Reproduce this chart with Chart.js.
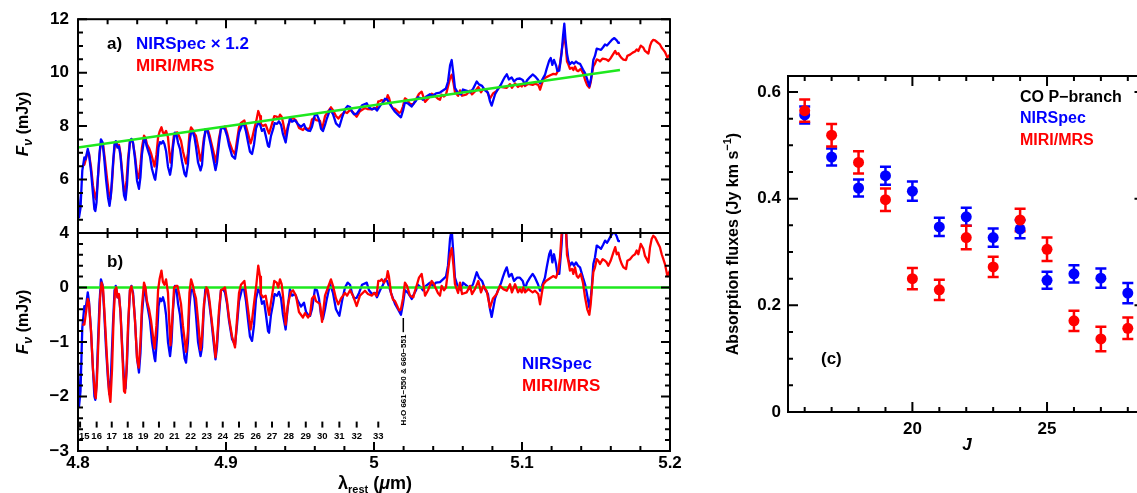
<!DOCTYPE html>
<html>
<head>
<meta charset="utf-8">
<script src="https://cdn.jsdelivr.net/npm/chart.js@4.4.1/dist/chart.umd.min.js"></script>
<style>
  html, body { margin: 0; padding: 0; background: #fff; overflow: hidden; }
  body { width: 1137px; height: 493px; position: relative; }
  canvas { position: absolute; left: 0; top: 0; }
</style>
</head>
<body>
<canvas id="specA" width="1150" height="493"></canvas>
<canvas id="specB" width="1150" height="493"></canvas>
<canvas id="fluxC" width="1150" height="493"></canvas>
<script>
const FAMILY = '"Liberation Sans", Arial, sans-serif';
const BLUE = '#0000ff';
const RED = '#ff0000';
const GREEN = '#1ee81e';

// CO v=1-0 P-branch line positions marked under panel b
const pBranchJ = [15, 16, 17, 18, 19, 20, 21, 22, 23, 24, 25, 26, 27, 28, 29, 30, 31, 32, 33];
const pBranchWave = [4.8014, 4.8126, 4.8228, 4.8336, 4.8441, 4.8547, 4.8651, 4.8761, 4.8870, 4.8978,
  4.9088, 4.9201, 4.9311, 4.9424, 4.9539, 4.9651, 4.9766, 4.9883, 5.0029];
const waterWave = 5.0198;

// straight-line continuum under the CO band (mJy)
const contWave = [4.80, 5.1662];
const contFlux = [7.20, 10.10];
const nirScale = 1.2;

// continuum-subtracted NIRSpec spectrum (mJy)
const nirWave = [
  4.8000, 4.8007, 4.8017, 4.8029, 4.8043, 4.8051, 4.8066, 4.8074, 4.8088, 4.8101, 4.8111, 4.8117, 4.8125, 4.8135,
  4.8145, 4.8155, 4.8166, 4.8176, 4.8189, 4.8203, 4.8213, 4.8223, 4.8236, 4.8247, 4.8255, 4.8267, 4.8277, 4.8287,
  4.8301, 4.8311, 4.8321, 4.8331, 4.8341, 4.8351, 4.8361, 4.8372, 4.8385, 4.8399, 4.8412, 4.8422, 4.8432, 4.8446,
  4.8453, 4.8463, 4.8473, 4.8486, 4.8500, 4.8517, 4.8522, 4.8534, 4.8544, 4.8554, 4.8564, 4.8574, 4.8584, 4.8595,
  4.8608, 4.8622, 4.8632, 4.8642, 4.8655, 4.8666, 4.8676, 4.8689, 4.8703, 4.8720, 4.8730, 4.8743, 4.8753, 4.8764,
  4.8777, 4.8787, 4.8797, 4.8811, 4.8828, 4.8838, 4.8848, 4.8861, 4.8875, 4.8885, 4.8899, 4.8916, 4.8929, 4.8939,
  4.8953, 4.8966, 4.8980, 4.8993, 4.9007, 4.9020, 4.9041, 4.9061, 4.9074, 4.9088, 4.9108, 4.9122, 4.9135, 4.9149,
  4.9162, 4.9176, 4.9189, 4.9203, 4.9218, 4.9230, 4.9243, 4.9257, 4.9270, 4.9284, 4.9291, 4.9304, 4.9318, 4.9328,
  4.9345, 4.9358, 4.9372, 4.9385, 4.9403, 4.9416, 4.9432, 4.9446, 4.9466, 4.9486, 4.9507, 4.9527, 4.9541, 4.9554,
  4.9568, 4.9581, 4.9601, 4.9615, 4.9628, 4.9642, 4.9655, 4.9669, 4.9682, 4.9703, 4.9723, 4.9743, 4.9766, 4.9784,
  4.9804, 4.9822, 4.9838, 4.9851, 4.9865, 4.9883, 4.9899, 4.9919, 4.9951, 4.9966, 4.9986, 5.0007, 5.0020, 5.0041,
  5.0061, 5.0074, 5.0088, 5.0101, 5.0115, 5.0128, 5.0142, 5.0162, 5.0182, 5.0196, 5.0209, 5.0230, 5.0255, 5.0264,
  5.0284, 5.0297, 5.0318, 5.0331, 5.0351, 5.0378, 5.0399, 5.0419, 5.0446, 5.0466, 5.0486, 5.0500, 5.0514, 5.0525,
  5.0537, 5.0547, 5.0568, 5.0588, 5.0601, 5.0628, 5.0649, 5.0669, 5.0694, 5.0709, 5.0730, 5.0750, 5.0770, 5.0784,
  5.0795, 5.0818, 5.0838, 5.0858, 5.0872, 5.0885, 5.0897, 5.0912, 5.0930, 5.0946, 5.0966, 5.0986, 5.1005, 5.1020,
  5.1034, 5.1054, 5.1072, 5.1088, 5.1108, 5.1122, 5.1135, 5.1155, 5.1167, 5.1184, 5.1194, 5.1205, 5.1216, 5.1230,
  5.1239, 5.1252, 5.1268, 5.1277, 5.1286, 5.1294, 5.1304, 5.1313, 5.1324, 5.1338, 5.1351, 5.1365, 5.1378, 5.1392,
  5.1412, 5.1426, 5.1439, 5.1455, 5.1466, 5.1473, 5.1482, 5.1493, 5.1505, 5.1520, 5.1534, 5.1549, 5.1561, 5.1574,
  5.1583, 5.1595, 5.1608, 5.1624, 5.1640, 5.1651, 5.1662
];
const nirRes = [
  -1.40, -2.18, -1.90, -0.74, -0.34, -0.40, -0.09, -0.25, -0.80, -1.50, -2.00, -2.06, -1.80, -1.00,
  -0.30, 0.15, 0.05, -0.40, -1.10, -1.70, -1.96, -1.60, -0.70, -0.05, 0.03, -0.18, -0.15, -0.45,
  -1.20, -1.70, -1.85, -1.40, -0.60, -0.05, 0.03, -0.10, -0.60, -1.30, -1.56, -1.20, -0.50, -0.05,
  0.00, -0.25, -0.40, -0.60, -1.00, -1.30, -1.35, -0.90, -0.35, -0.20, -0.25, -0.18, -0.28, -0.50,
  -1.00, -1.26, -1.00, -0.40, 0.03, -0.05, -0.30, -0.50, -0.90, -1.30, -1.38, -1.00, -0.35, -0.03,
  -0.05, -0.20, -0.50, -1.00, -1.26, -1.10, -0.50, 0.00, -0.05, -0.25, -0.55, -1.00, -1.32, -1.10,
  -0.50, -0.05, -0.03, -0.09, -0.30, -0.60, -0.95, -1.05, -0.70, -0.25, -0.03, -0.03, -0.25, -0.60,
  -0.90, -0.98, -0.70, -0.20, -0.03, -0.10, -0.30, -0.25, -0.50, -0.80, -0.83, -0.50, -0.30, -0.12,
  -0.15, -0.08, -0.20, -0.50, -0.77, -0.40, -0.03, -0.15, -0.12, -0.25, -0.35, -0.28, -0.45, -0.50,
  -0.52, -0.40, -0.03, -0.05, -0.20, -0.50, -0.58, -0.40, -0.20, 0.06, -0.10, -0.40, -0.52, -0.25,
  0.00, 0.09, 0.05, -0.10, -0.20, -0.19, -0.10, 0.05, 0.09, -0.05, -0.12, -0.10, -0.18, -0.05,
  0.05, 0.15, 0.12, 0.02, -0.10, -0.20, -0.30, -0.40, -0.50, -0.30, -0.05, -0.10, -0.21, -0.15,
  -0.05, 0.05, 0.00, -0.05, 0.03, 0.09, 0.03, 0.09, 0.10, 0.15, 0.20, 0.40, 0.90, 1.06,
  0.60, 0.18, 0.00, -0.05, 0.09, 0.03, -0.03, 0.06, 0.28, 0.18, 0.12, -0.03, -0.12, -0.40,
  -0.54, -0.20, -0.05, 0.08, 0.20, 0.30, 0.37, 0.20, 0.25, 0.12, 0.18, 0.18, 0.12, -0.03,
  0.09, 0.18, 0.25, 0.18, 0.06, -0.06, 0.03, 0.18, 0.37, 0.61, 0.68, 0.46, 0.61, 0.43,
  0.25, 0.25, 0.80, 1.30, 1.69, 1.20, 0.74, 0.52, 0.40, 0.46, 0.40, 0.46, 0.40, 0.37,
  0.18, 0.06, -0.12, -0.37, -0.15, 0.06, 0.43, 0.55, 0.77, 0.74, 0.71, 0.79, 0.86, 0.82,
  0.86, 0.92, 0.98, 1.02, 0.94, 0.85, 0.85
];

// continuum-subtracted MIRI/MRS spectrum (mJy)
const miriWave = [
  4.8029, 4.8043, 4.8054, 4.8066, 4.8074, 4.8088, 4.8101, 4.8115, 4.8120, 4.8128, 4.8139, 4.8149, 4.8159, 4.8169,
  4.8182, 4.8196, 4.8209, 4.8219, 4.8230, 4.8240, 4.8250, 4.8259, 4.8267, 4.8277, 4.8287, 4.8301, 4.8311, 4.8318,
  4.8328, 4.8338, 4.8351, 4.8361, 4.8372, 4.8385, 4.8399, 4.8410, 4.8422, 4.8432, 4.8446, 4.8456, 4.8466, 4.8480,
  4.8493, 4.8507, 4.8517, 4.8530, 4.8541, 4.8551, 4.8564, 4.8574, 4.8584, 4.8595, 4.8608, 4.8618, 4.8625, 4.8639,
  4.8649, 4.8662, 4.8672, 4.8682, 4.8696, 4.8709, 4.8730, 4.8743, 4.8753, 4.8764, 4.8777, 4.8787, 4.8797, 4.8811,
  4.8828, 4.8838, 4.8851, 4.8868, 4.8878, 4.8889, 4.8899, 4.8916, 4.8929, 4.8939, 4.8953, 4.8966, 4.8980, 4.8993,
  4.9007, 4.9020, 4.9041, 4.9061, 4.9074, 4.9088, 4.9101, 4.9124, 4.9135, 4.9149, 4.9166, 4.9176, 4.9189, 4.9205,
  4.9218, 4.9230, 4.9236, 4.9250, 4.9268, 4.9282, 4.9291, 4.9309, 4.9326, 4.9343, 4.9353, 4.9365, 4.9376, 4.9385,
  4.9403, 4.9419, 4.9437, 4.9453, 4.9473, 4.9493, 4.9520, 4.9534, 4.9554, 4.9568, 4.9581, 4.9597, 4.9608, 4.9635,
  4.9649, 4.9669, 4.9689, 4.9709, 4.9723, 4.9743, 4.9759, 4.9777, 4.9804, 4.9818, 4.9838, 4.9858, 4.9883, 4.9905,
  4.9939, 4.9959, 4.9986, 5.0000, 5.0018, 5.0029, 5.0041, 5.0052, 5.0068, 5.0086, 5.0093, 5.0101, 5.0115, 5.0128,
  5.0142, 5.0162, 5.0171, 5.0182, 5.0196, 5.0209, 5.0223, 5.0243, 5.0266, 5.0277, 5.0291, 5.0304, 5.0322, 5.0333,
  5.0345, 5.0365, 5.0390, 5.0405, 5.0432, 5.0446, 5.0457, 5.0473, 5.0486, 5.0500, 5.0514, 5.0525, 5.0537, 5.0547,
  5.0568, 5.0581, 5.0595, 5.0626, 5.0649, 5.0662, 5.0682, 5.0705, 5.0723, 5.0739, 5.0761, 5.0784, 5.0804, 5.0829,
  5.0851, 5.0874, 5.0897, 5.0919, 5.0932, 5.0953, 5.0973, 5.0986, 5.0998, 5.1009, 5.1020, 5.1043, 5.1072, 5.1088,
  5.1110, 5.1122, 5.1133, 5.1144, 5.1162, 5.1194, 5.1212, 5.1230, 5.1245, 5.1257, 5.1270, 5.1286, 5.1297, 5.1304,
  5.1313, 5.1324, 5.1338, 5.1347, 5.1358, 5.1370, 5.1380, 5.1397, 5.1412, 5.1426, 5.1441, 5.1455, 5.1464, 5.1473,
  5.1482, 5.1493, 5.1505, 5.1516, 5.1527, 5.1545, 5.1561, 5.1572, 5.1583, 5.1599, 5.1617, 5.1630, 5.1640, 5.1651,
  5.1662, 5.1674, 5.1685, 5.1703, 5.1712, 5.1730, 5.1748, 5.1764, 5.1775, 5.1786, 5.1802, 5.1820, 5.1831, 5.1843,
  5.1854, 5.1865, 5.1876, 5.1887, 5.1899, 5.1910, 5.1921, 5.1932, 5.1944, 5.1955, 5.1966, 5.1975, 5.1982, 5.2000
];
const miriRes = [
  -0.68, -0.68, -0.46, -0.21, -0.28, -0.80, -1.50, -1.95, -2.03, -1.70, -0.90, -0.20, 0.09, 0.00,
  -0.60, -1.30, -1.90, -2.10, -1.50, -0.60, -0.05, 0.00, -0.18, -0.12, -0.45, -1.30, -1.90, -1.93,
  -1.50, -0.70, -0.05, 0.02, -0.15, -0.60, -1.30, -1.47, -1.00, -0.35, 0.09, 0.00, -0.25, -0.40,
  -0.60, -0.90, -1.12, -0.70, -0.05, 0.15, 0.31, 0.10, 0.05, 0.15, -0.10, -0.70, -1.06, -0.50,
  0.00, 0.03, 0.03, -0.10, -0.30, -0.70, -1.18, -0.80, -0.10, 0.15, 0.03, -0.10, -0.20, -0.60,
  -1.15, -0.90, -0.30, 0.00, -0.05, -0.25, -0.50, -0.90, -1.28, -1.00, -0.40, -0.05, -0.03, 0.00,
  -0.25, -0.55, -0.90, -1.10, -0.60, -0.10, 0.05, 0.12, -0.10, -0.40, -0.77, -0.60, -0.30, 0.05,
  0.40, 0.20, -0.12, -0.18, -0.15, -0.37, -0.50, -0.18, 0.12, 0.09, 0.00, 0.15, 0.06, -0.15,
  -0.68, -0.30, -0.09, -0.05, -0.15, -0.45, -0.55, -0.47, -0.55, -0.50, -0.20, -0.15, -0.25, -0.30,
  -0.63, -0.15, 0.00, 0.15, 0.03, -0.20, -0.31, -0.20, -0.10, -0.15, -0.05, -0.15, -0.34, -0.15,
  -0.06, -0.12, -0.15, -0.10, -0.15, 0.12, 0.12, 0.15, 0.09, 0.18, 0.30, 0.20, -0.10, -0.22,
  -0.25, -0.37, -0.42, -0.40, -0.20, 0.09, 0.03, -0.15, -0.18, -0.06, 0.06, 0.18, 0.25, 0.06,
  -0.15, -0.05, 0.12, 0.06, -0.10, -0.15, 0.03, -0.05, 0.00, 0.30, 0.60, 0.72, 0.40, 0.06,
  -0.10, 0.09, -0.12, -0.09, 0.03, -0.12, -0.03, 0.12, -0.09, 0.03, -0.06, -0.37, -0.20, -0.12,
  0.03, -0.03, -0.06, 0.06, -0.09, 0.06, -0.09, -0.03, -0.09, 0.00, -0.09, -0.03, -0.09, -0.06,
  -0.12, -0.31, -0.12, 0.06, 0.12, 0.18, 0.21, 0.18, 0.31, 0.55, 1.10, 1.60, 1.10, 0.60,
  0.49, 0.31, 0.34, 0.25, 0.37, 0.21, 0.18, 0.25, 0.09, -0.18, -0.40, -0.50, -0.31, 0.00,
  0.28, 0.37, 0.52, 0.49, 0.43, 0.52, 0.49, 0.46, 0.40, 0.49, 0.64, 0.74, 0.61, 0.64,
  0.52, 0.43, 0.37, 0.34, 0.49, 0.52, 0.58, 0.61, 0.68, 0.61, 0.80, 0.71, 0.58, 0.52,
  0.46, 0.74, 0.89, 0.95, 0.92, 0.86, 0.80, 0.74, 0.61, 0.52, 0.43, 0.31, 0.21, 0.31
];

// zero level of the residual panel
const baseWave = [4.8, 5.2];
const baseLevel = [0, 0];

// integrated P-branch absorption fluxes (Jy km/s)
const jLevels = [16, 17, 18, 19, 20, 21, 22, 23, 24, 25, 26, 27, 28];
const nirFlux = [0.557, 0.478, 0.420, 0.443, 0.414, 0.347, 0.366, 0.327, 0.343, 0.247, 0.259, 0.251, 0.223];
const nirErr = [0.016, 0.016, 0.016, 0.017, 0.018, 0.017, 0.017, 0.017, 0.017, 0.016, 0.016, 0.018, 0.019];
const miriFlux = [0.565, 0.519, 0.468, 0.398, 0.250, 0.229, 0.327, 0.272, 0.360, 0.305, 0.171, 0.137, 0.157];
const miriErr = [0.021, 0.021, 0.021, 0.021, 0.020, 0.019, 0.022, 0.019, 0.021, 0.022, 0.019, 0.023, 0.020];

function continuum(w) {
  const slope = (contFlux[1] - contFlux[0]) / (contWave[1] - contWave[0]);
  return contFlux[0] + slope * (w - contWave[0]);
}

const xy = (xs, ys) => xs.map((x, i) => ({ x, y: ys[i] }));
const bold = s => `bold ${s}px ${FAMILY}`;
const boldIt = s => `italic bold ${s}px ${FAMILY}`;

function onStep(v, step) {
  const r = v / step;
  return Math.abs(r - Math.round(r)) < 1e-6;
}

// draw a row of differently styled text pieces centred on (cx, cy)
function drawRuns(ctx, runs, cx, cy, rot) {
  ctx.save();
  ctx.translate(cx, cy);
  if (rot) ctx.rotate(rot);
  let total = 0;
  runs.forEach(r => { ctx.font = r.font; r.w = ctx.measureText(r.t).width; total += r.w; });
  let x = -total / 2;
  ctx.textAlign = 'left';
  ctx.textBaseline = 'alphabetic';
  runs.forEach(r => {
    ctx.font = r.font;
    ctx.fillStyle = r.color || '#000';
    ctx.fillText(r.t, x, r.dy || 0);
    x += r.w;
  });
  ctx.restore();
}

function label(ctx, text, x, y, color, font) {
  ctx.font = font || bold(16);
  ctx.fillStyle = color || '#000';
  ctx.textAlign = 'left';
  ctx.textBaseline = 'alphabetic';
  ctx.fillText(text, x, y);
}

// box round the plot with inward ticks on all four sides
const frameTicks = {
  id: 'frameTicks',
  afterDraw(chart, args, opts) {
    const { ctx, chartArea: { left, right, top, bottom } } = chart;
    ctx.save();
    ctx.strokeStyle = '#000';
    ctx.lineWidth = 2;
    ['x', 'y'].forEach(id => {
      const sc = chart.scales[id];
      const o = opts[id];
      sc.ticks.forEach(t => {
        if (!onStep(t.value, o.minor)) return;
        const len = onStep(t.value, o.major) ? opts.majorLen : opts.minorLen;
        const p = sc.getPixelForValue(t.value);
        ctx.beginPath();
        if (id === 'x') {
          ctx.moveTo(p, bottom); ctx.lineTo(p, bottom - len);
          ctx.moveTo(p, top); ctx.lineTo(p, top + len);
        } else {
          ctx.moveTo(left, p); ctx.lineTo(left + len, p);
          ctx.moveTo(right, p); ctx.lineTo(right - len, p);
        }
        ctx.stroke();
      });
    });
    ctx.strokeRect(left, top, right - left, bottom - top);
    ctx.restore();
  }
};

// size = fixed depth of the axis box, so the plot area lands where the padding says
function axis(min, max, minor, major, fmt, pad, size) {
  return {
    type: 'linear',
    min, max,
    grid: { display: false, drawTicks: false },
    border: { display: false },
    ticks: {
      stepSize: minor,
      autoSkip: false,
      includeBounds: false,
      maxRotation: 0,
      padding: pad,
      color: '#000',
      font: { family: FAMILY, size: 17, weight: 'bold' },
      callback: v => (fmt && onStep(v, major)) ? fmt(v) : ''
    },
    afterFit: s => { if (s.isHorizontal()) s.height = size; else s.width = size; }
  };
}

function spectrumLine(data, color, width) {
  return {
    data,
    showLine: true,
    borderColor: color,
    borderWidth: width || 2.3,
    borderJoinStyle: 'round',
    pointRadius: 0,
    tension: 0
  };
}

const baseOptions = {
  responsive: false,
  animation: false,
  events: [],
  plugins: { legend: { display: false }, tooltip: { enabled: false } }
};

// ---- panel a: spectra with the continuum ----
const nirA = nirWave.map((w, i) => ({ x: w, y: continuum(w) + nirScale * nirRes[i] }));
const miriA = miriWave.map((w, i) => ({ x: w, y: continuum(w) + miriRes[i] }));

new Chart(document.getElementById('specA'), {
  type: 'scatter',
  data: {
    datasets: [
      spectrumLine(xy(contWave, contFlux), GREEN, 2.5),
      spectrumLine(nirA, BLUE),
      spectrumLine(miriA, RED)
    ]
  },
  options: {
    ...baseOptions,
    layout: { padding: { left: 0, top: 17, right: 480, bottom: 260 } },
    scales: {
      x: axis(4.8, 5.2, 0.02, 0.1, null, 4, 0),
      y: axis(4, 12, 0.5, 2, v => String(v), 9, 78)
    },
    plugins: {
      ...baseOptions.plugins,
      frameTicks: { x: { minor: 0.02, major: 0.1 }, y: { minor: 0.5, major: 2 }, majorLen: 9, minorLen: 5 }
    }
  },
  plugins: [frameTicks, {
    id: 'textA',
    afterDraw(chart) {
      const ctx = chart.ctx;
      label(ctx, 'a)', 107, 49, '#000', bold(17));
      label(ctx, 'NIRSpec × 1.2', 136, 49, BLUE, bold(17));
      label(ctx, 'MIRI/MRS', 136, 71, RED, bold(17));
      drawRuns(ctx, [
        { t: 'F', font: boldIt(17) },
        { t: 'ν', font: boldIt(13), dy: 4 },
        { t: ' (mJy)', font: bold(16) }
      ], 28, 124, -Math.PI / 2);
    }
  }]
});

// ---- panel b: continuum-subtracted spectra ----
new Chart(document.getElementById('specB'), {
  type: 'scatter',
  data: {
    datasets: [
      spectrumLine(xy(miriWave, miriRes), RED),
      spectrumLine(xy(baseWave, baseLevel), GREEN, 2.5),
      spectrumLine(xy(nirWave, nirRes), BLUE)
    ]
  },
  options: {
    ...baseOptions,
    layout: { padding: { left: 0, top: 233, right: 480, bottom: 0 } },
    scales: {
      x: axis(4.8, 5.2, 0.02, 0.1, v => String(+v.toFixed(1)), 2, 42),
      y: axis(-3, 1, 0.2, 1, v => v > 0.5 ? '' : (Math.abs(v) < 1e-9 ? '0' : '−' + Math.round(Math.abs(v))), 9, 78)
    },
    plugins: {
      ...baseOptions.plugins,
      frameTicks: { x: { minor: 0.02, major: 0.1 }, y: { minor: 0.2, major: 1 }, majorLen: 9, minorLen: 5 }
    }
  },
  plugins: [frameTicks, {
    id: 'textB',
    afterDraw(chart) {
      const { ctx, scales: { x, y } } = chart;
      label(ctx, 'b)', 107, 267, '#000', bold(17));
      label(ctx, 'NIRSpec', 522, 369, BLUE, bold(17));
      label(ctx, 'MIRI/MRS', 522, 391, RED, bold(17));

      // P-branch line markers
      ctx.save();
      ctx.strokeStyle = '#000';
      ctx.lineWidth = 2;
      ctx.fillStyle = '#000';
      ctx.font = bold(9.5);
      ctx.textBaseline = 'middle';
      pBranchWave.forEach((w, i) => {
        const px = x.getPixelForValue(w);
        ctx.beginPath();
        ctx.moveTo(px, y.getPixelForValue(-2.46));
        ctx.lineTo(px, y.getPixelForValue(-2.57));
        ctx.stroke();
        ctx.textAlign = i === 0 ? 'left' : 'center';
        ctx.fillText(String(pBranchJ[i]), i === 0 ? px - 1 : px, y.getPixelForValue(-2.73));
      });

      // water line marker
      const wx = x.getPixelForValue(waterWave);
      ctx.lineWidth = 1.5;
      ctx.beginPath();
      ctx.moveTo(wx, y.getPixelForValue(-0.56));
      ctx.lineTo(wx, y.getPixelForValue(-0.82));
      ctx.stroke();
      ctx.translate(wx, y.getPixelForValue(-2.53));
      ctx.rotate(-Math.PI / 2);
      ctx.font = bold(8);
      ctx.textAlign = 'left';
      ctx.fillText('H₂O 661−550 & 660−551', 0, 0);
      ctx.restore();

      drawRuns(ctx, [
        { t: 'F', font: boldIt(17) },
        { t: 'ν', font: boldIt(13), dy: 4 },
        { t: ' (mJy)', font: bold(16) }
      ], 28, 322, -Math.PI / 2);
      drawRuns(ctx, [
        { t: 'λ', font: bold(18) },
        { t: 'rest', font: bold(11), dy: 4 },
        { t: ' (', font: bold(18) },
        { t: 'μ', font: boldIt(18) },
        { t: 'm)', font: bold(18) }
      ], 375, 489);
    }
  }]
});

// ---- panel c: absorption fluxes per J ----
const errorBars = {
  id: 'errorBars',
  beforeDatasetsDraw(chart, args, opts) {
    const { ctx, scales: { x, y } } = chart;
    ctx.save();
    ctx.lineWidth = 2.5;
    opts.sets.forEach(s => {
      ctx.strokeStyle = s.color;
      jLevels.forEach((j, i) => {
        const px = x.getPixelForValue(j);
        const hi = y.getPixelForValue(s.val[i] + s.err[i]);
        const lo = y.getPixelForValue(s.val[i] - s.err[i]);
        ctx.beginPath();
        ctx.moveTo(px, hi); ctx.lineTo(px, lo);
        ctx.moveTo(px - 5.5, hi); ctx.lineTo(px + 5.5, hi);
        ctx.moveTo(px - 5.5, lo); ctx.lineTo(px + 5.5, lo);
        ctx.stroke();
      });
    });
    ctx.restore();
  }
};

function fluxPoints(vals, color) {
  return {
    data: xy(jLevels, vals),
    pointRadius: 5.5,
    pointBorderWidth: 0,
    pointBackgroundColor: color,
    backgroundColor: color
  };
}

new Chart(document.getElementById('fluxC'), {
  type: 'scatter',
  data: {
    datasets: [
      fluxPoints(miriFlux, RED),
      fluxPoints(nirFlux, BLUE)
    ]
  },
  options: {
    ...baseOptions,
    layout: { padding: { left: 728, top: 76, right: 5, bottom: 41 } },
    scales: {
      x: axis(15.38, 28.62, 1, 5, v => String(v), 7, 40),
      y: axis(0, 0.63, 0.05, 0.2, v => (v < 1e-9 ? '0' : v.toFixed(1)), 7, 60)
    },
    plugins: {
      ...baseOptions.plugins,
      frameTicks: { x: { minor: 1, major: 5 }, y: { minor: 0.05, major: 0.2 }, majorLen: 10, minorLen: 5 },
      errorBars: { sets: [{ val: nirFlux, err: nirErr, color: BLUE }, { val: miriFlux, err: miriErr, color: RED }] }
    }
  },
  plugins: [frameTicks, errorBars, {
    id: 'textC',
    afterDraw(chart) {
      const ctx = chart.ctx;
      label(ctx, 'CO P−branch', 1020, 102, '#000', bold(16));
      label(ctx, 'NIRSpec', 1020, 123, BLUE, bold(16));
      label(ctx, 'MIRI/MRS', 1020, 145, RED, bold(16));
      label(ctx, '(c)', 821, 364, '#000', bold(17));
      drawRuns(ctx, [{ t: 'J', font: boldIt(17) }], 967, 450);
      drawRuns(ctx, [
        { t: 'Absorption fluxes (Jy km s', font: bold(16) },
        { t: '−1', font: bold(11), dy: -7 },
        { t: ')', font: bold(16) }
      ], 738, 244, -Math.PI / 2);
    }
  }]
});
</script>
</body>
</html>
